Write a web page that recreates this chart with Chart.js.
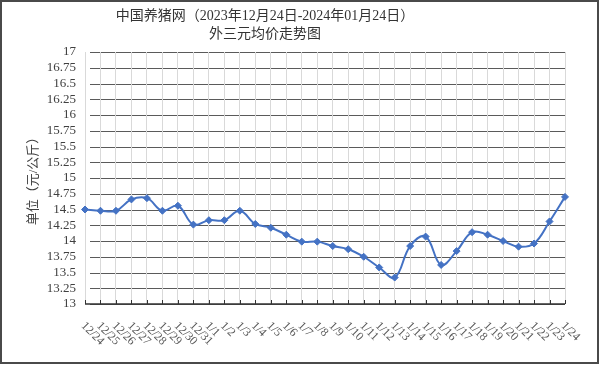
<!DOCTYPE html>
<html lang="zh-CN">
<head>
    <meta charset="UTF-8">
    <title>外三元均价走势图</title>
    <style>
        html, body { margin: 0; padding: 0; background: #fff; }
        #wrap { width: 600px; height: 365px; }
    </style>
</head>
<body>
    <div id="wrap"><canvas id="myChart" width="600" height="365"></canvas></div>
    <script src="https://cdn.jsdelivr.net/npm/chart.js@4.4.1/dist/chart.umd.min.js"></script>
    <script>
        // data
        var dates = ['12/24', '12/25', '12/26', '12/27', '12/28', '12/29', '12/30', '12/31',
            '1/1', '1/2', '1/3', '1/4', '1/5', '1/6', '1/7', '1/8', '1/9', '1/10', '1/11', '1/12',
            '1/13', '1/14', '1/15', '1/16', '1/17', '1/18', '1/19', '1/20', '1/21', '1/22', '1/23', '1/24'];
        var prices = [14.50, 14.48, 14.48, 14.66, 14.68, 14.48, 14.56, 14.26,
            14.33, 14.33, 14.48, 14.27, 14.21, 14.10, 13.99, 13.99, 13.92, 13.87, 13.75, 13.58,
            13.42, 13.92, 14.07, 13.62, 13.84, 14.14, 14.10, 14.00, 13.91, 13.96, 14.31, 14.70];
        var yMin = 13, yMax = 17, yStep = 0.25;
        var titleLines = ['中国养猪网（2023年12月24日-2024年01月24日）', '外三元均价走势图'];
        var yTitle = '单位（元/公斤）';

        var serif = '"Liberation Serif", "Noto Sans CJK SC", serif';

        var extras = {
            id: 'extras',
            beforeDraw: function (chart) {
                var ctx = chart.ctx, area = chart.chartArea, y = chart.scales.y;
                ctx.save();
                ctx.fillStyle = '#fff';
                ctx.fillRect(0, 0, chart.width, chart.height);
                // horizontal grid, starting a little right of the plot edge
                ctx.strokeStyle = '#5a5a5a';
                ctx.lineWidth = 1.2;
                y.ticks.forEach(function (t) {
                    var py = Math.round(y.getPixelForValue(t.value)) + 0.5;
                    ctx.beginPath();
                    ctx.moveTo(area.left + 5, py);
                    ctx.lineTo(area.right, py);
                    ctx.stroke();
                });
                ctx.restore();
            },
            afterDraw: function (chart) {
                var ctx = chart.ctx, area = chart.chartArea, x = chart.scales.x;
                ctx.save();
                // bottom axis + small inside ticks
                ctx.strokeStyle = '#333';
                ctx.lineWidth = 1.5;
                ctx.beginPath();
                ctx.moveTo(area.left, area.bottom);
                ctx.lineTo(area.right, area.bottom);
                ctx.stroke();
                ctx.lineWidth = 1;
                dates.forEach(function (d, i) {
                    var px = Math.round(x.getPixelForValue(i)) + 0.5;
                    ctx.beginPath();
                    ctx.moveTo(px, area.bottom);
                    ctx.lineTo(px, area.bottom - 4);
                    ctx.stroke();
                });
                // rotated date labels
                ctx.fillStyle = '#595959';
                ctx.font = '12px ' + serif;
                ctx.textAlign = 'left';
                ctx.textBaseline = 'middle';
                dates.forEach(function (d, i) {
                    var px = x.getPixelForValue(i);
                    ctx.save();
                    ctx.translate(px - 2, area.bottom + 20);
                    ctx.rotate(Math.PI / 4);
                    ctx.fillText(d, 0, 0);
                    ctx.restore();
                });
                // title
                ctx.fillStyle = '#333';
                ctx.font = '14px ' + serif;
                ctx.textAlign = 'center';
                ctx.fillText(titleLines[0], 265, 16);
                ctx.fillText(titleLines[1], 265, 34);
                // frame
                ctx.strokeStyle = '#4a4a4a';
                ctx.lineWidth = 2;
                ctx.strokeRect(1, 1, 597, 362);
                ctx.restore();
            }
        };

        var ctx = document.getElementById('myChart').getContext('2d');
        var myChart = new Chart(ctx, {
            type: 'line',
            data: {
                labels: dates,
                datasets: [{
                    data: prices,
                    borderColor: '#4472c4',
                    backgroundColor: '#4472c4',
                    borderWidth: 2,
                    tension: 0.4,
                    pointStyle: 'rectRot',
                    pointRadius: 3.5,
                    pointBackgroundColor: '#4472c4',
                    pointBorderColor: '#4472c4',
                    pointBorderWidth: 1
                }]
            },
            options: {
                responsive: false,
                animation: false,
                devicePixelRatio: 1,
                layout: { padding: { top: 52, right: 35, bottom: 61, left: 0 } },
                plugins: {
                    legend: { display: false },
                    title: { display: false },
                    tooltip: { enabled: false }
                },
                scales: {
                    x: {
                        offset: false,
                        grid: { color: '#d9d9d9', lineWidth: 1, drawTicks: false },
                        border: { display: false },
                        ticks: { display: false }
                    },
                    y: {
                        min: yMin,
                        max: yMax,
                        afterFit: function (scale) { scale.width = 85; },
                        grid: { display: false, drawTicks: false },
                        border: { display: false },
                        ticks: {
                            stepSize: yStep,
                            autoSkip: false,
                            padding: 9,
                            color: '#404040',
                            font: { family: serif, size: 13 },
                            callback: function (v) { return String(v); }
                        },
                        title: {
                            display: true,
                            text: yTitle,
                            color: '#404040',
                            font: { family: serif, size: 13 },
                            padding: { top: 26, bottom: 0 }
                        }
                    }
                }
            },
            plugins: [extras]
        });
    </script>
</body>
</html>
